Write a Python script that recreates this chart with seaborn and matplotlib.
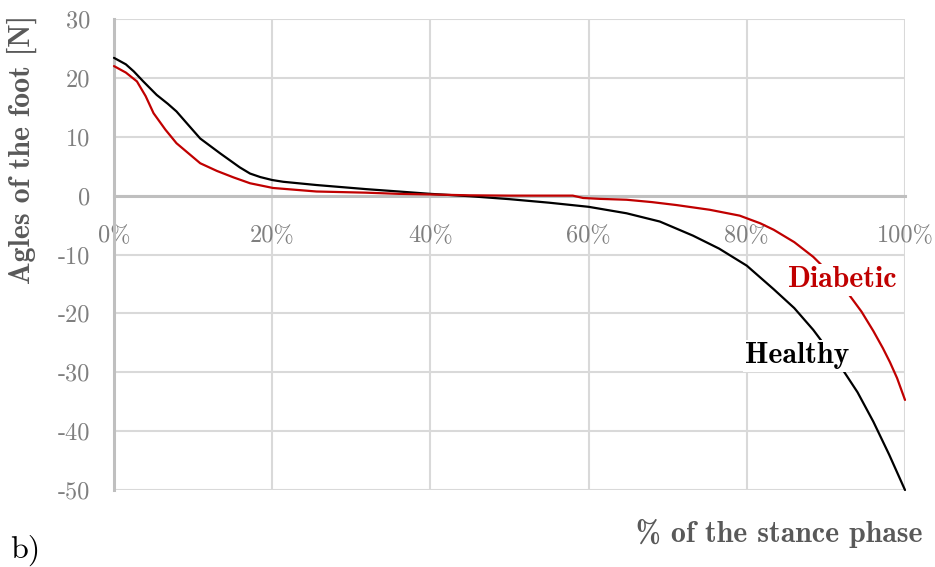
import matplotlib
matplotlib.use("Agg")
import matplotlib.pyplot as plt
import seaborn as sns
import pandas as pd

# Stance phase (%) and foot angle values for each group
healthy_x = [0, 1.5, 2.5, 3.7, 5.4, 6.8, 7.9, 9.2, 10.9, 13.4, 15.9, 17.2, 18.5, 20, 21.4, 25.6,
             31.9, 36, 40, 45, 50, 55, 60, 64.8, 69, 73.2, 76.5, 80, 83.4, 86, 88.4,
             91.8, 94, 96, 98, 100]
healthy_y = [23.4, 22.3, 21.1, 19.4, 17.1, 15.6, 14.3, 12.3, 9.7, 7.2, 4.8, 3.75, 3.15, 2.65, 2.35, 1.8,
             1.1, 0.7, 0.3, -0.1, -0.6, -1.2, -1.9, -3.0, -4.4, -6.8, -9.0, -11.9, -15.9, -19.1, -22.8,
             -28.9, -33.4, -38.4, -44.0, -50.0]

diabetic_x = [0, 1.5, 2.9, 4, 5, 6.5, 7.9, 9.4, 10.9, 13, 15.1, 17.2, 20.1, 25.6,
              31.9, 36, 40, 45, 50, 58, 59.3, 61.4, 64.8, 68, 71.1, 75.3, 79.1, 81.7, 83.4,
              86, 88.4, 90.5, 92.8, 94.5, 96, 97.2, 98.1, 99, 100]
diabetic_y = [22.0, 20.9, 19.4, 16.9, 14.0, 11.2, 8.9, 7.2, 5.5, 4.2, 3.1, 2.1, 1.3, 0.7,
              0.5, 0.3, 0.2, 0.05, 0.0, 0.0, -0.4, -0.55, -0.7, -1.1, -1.6, -2.4, -3.4, -4.7, -5.8,
              -7.9, -10.4, -13.2, -16.6, -19.7, -23.0, -25.9, -28.3, -31.0, -34.7]

x_ticks = [0, 20, 40, 60, 80, 100]
x_tick_labels = ["0%", "20%", "40%", "60%", "80%", "100%"]
y_ticks = [30, 20, 10, 0, -10, -20, -30, -40, -50]
y_tick_labels = ["30", "20", "10", "0", "-10", "-20", "-30", "-40", "-50"]

df = pd.concat([
    pd.DataFrame({"pct": healthy_x, "angle": healthy_y, "group": "Healthy"}),
    pd.DataFrame({"pct": diabetic_x, "angle": diabetic_y, "group": "Diabetic"}),
])

sns.set_theme(style="white")
plt.rcParams["font.family"] = ["cmr10"]
plt.rcParams["axes.formatter.use_mathtext"] = True

fig = plt.figure(figsize=(9.35, 5.67), dpi=100)
ax = fig.add_axes([114 / 935, 1 - 490 / 567, (905 - 114) / 935, (490 - 19) / 567])

palette = {"Healthy": "#000000", "Diabetic": "#c00000"}
sns.lineplot(data=df, x="pct", y="angle", hue="group", palette=palette,
             linewidth=1.6, legend=False, ax=ax, sort=False, zorder=3)
for line in ax.lines:
    line.set_clip_on(False)
    line.set_solid_joinstyle("round")

ax.set_xlim(0, 100)
ax.set_ylim(-50, 30)
ax.set_xticks(x_ticks)
ax.set_xticklabels(x_tick_labels)
ax.set_yticks(y_ticks)
ax.set_yticklabels(y_tick_labels)

grid_c = "#d9d9d9"
ax.grid(True, color=grid_c, linewidth=1.5, zorder=0)
ax.set_axisbelow(True)

for side in ("top", "right"):
    ax.spines[side].set_visible(False)
ax.spines["left"].set_color("#bfbfbf")
ax.spines["left"].set_linewidth(2.2)
ax.spines["bottom"].set_position(("data", 0))
ax.spines["bottom"].set_color("#bfbfbf")
ax.spines["bottom"].set_linewidth(2.2)

ax.tick_params(axis="both", length=0, labelsize=17.5, labelcolor="#7f7f7f")
ax.tick_params(axis="x", pad=21)
ax.tick_params(axis="y", pad=17)

ax.set_xlabel("")
ax.set_ylabel("")

ax.text(92.1, -14.3, "Diabetic", color="#c00000", fontsize=21.5, family="cmb10",
        ha="center", va="center", zorder=4,
        bbox=dict(facecolor="white", edgecolor="none", pad=2))
ax.text(86.4, -27.2, "Healthy", color="#000000", fontsize=21.5, family="cmb10",
        ha="center", va="center", zorder=4,
        bbox=dict(facecolor="white", edgecolor="none", pad=2))

fig.text(22 / 935, 1 - 150 / 567, "Agles of the foot [N]", rotation=90,
         ha="center", va="center", fontsize=21.5, family="cmb10", color="#595959")
fig.text(922 / 935, 1 - 533 / 567, "% of the stance phase",
         ha="right", va="center", fontsize=21.5, family="cmb10", color="#595959")
fig.text(10 / 935, 1 - 550 / 567, "b)", ha="left", va="center",
         fontsize=23, family="cmr10", color="#000000")

fig.savefig("out.png", dpi=100, facecolor="white")
